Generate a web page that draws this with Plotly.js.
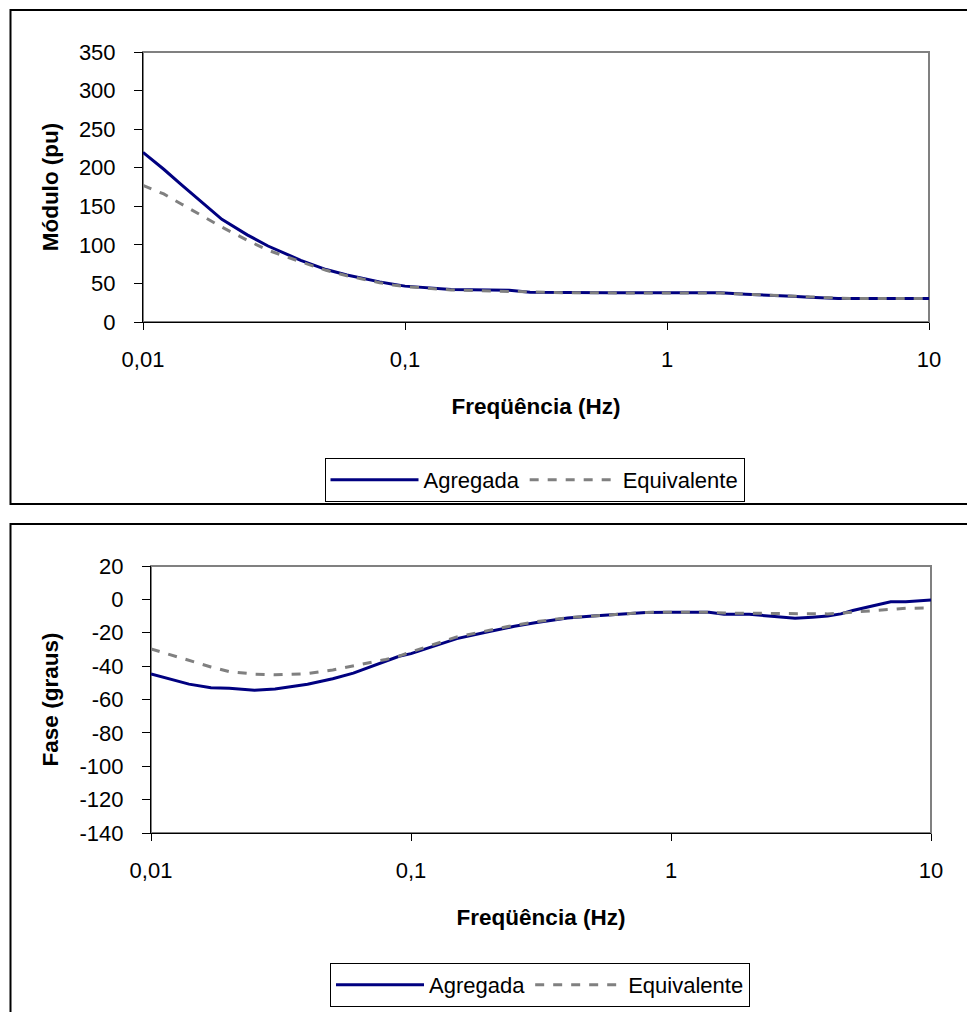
<!DOCTYPE html>
<html>
<head>
<meta charset="utf-8">
<script src="https://cdn.plot.ly/plotly-3.0.1.min.js"></script>
<style>
  html, body { margin: 0; padding: 0; background: #ffffff; }
  #chart { width: 967px; height: 1012px; }
</style>
</head>
<body>
<div id="chart"></div>
<script>
// Frequências (Hz)
const freq = [0.01, 0.012, 0.014, 0.017, 0.02, 0.025, 0.03, 0.04, 0.05, 0.06, 0.07, 0.08, 0.09, 0.1,
              0.15, 0.2, 0.25, 0.3, 0.4, 0.5, 0.6, 0.8, 1, 1.4, 1.6, 2, 2.5, 3, 3.5, 4, 4.5, 5, 6, 7, 8, 10];

// Módulo (pu)
const modAgregada = [220, 198, 178, 154, 133, 113, 98.5, 80, 68, 61, 56, 52, 49, 46.5,
                     42, 41, 41, 38.5, 38, 38, 38, 38, 38, 38, 38, 36, 35, 33.5, 32, 31, 30.5, 30.5, 30.5, 30.5, 30.5, 30.5];
const modEquivalente = [177, 166, 153, 137, 123, 106, 93, 78, 67, 60, 55, 51, 48, 46,
                        41.5, 40.5, 40, 38.5, 38, 38, 37.5, 37.5, 37.5, 37.5, 37.5, 36, 34.5, 33.5, 32.5, 31.5, 31, 30.5, 30.5, 30.5, 30.5, 30.5];

// Fase (graus)
const faseAgregada = [-44.7, -48, -50.8, -53, -53.3, -54.5, -53.7, -50.9, -47.6, -44.2, -40.5, -37.1, -34.1, -32.5,
                      -23.5, -19.3, -16.1, -14, -11.1, -10, -9.1, -7.9, -7.7, -7.7, -8.9, -8.9, -10.3, -11.3, -10.7, -10, -8.7, -6.7, -3.8, -1.4, -1.4, -0.4];
const faseEquivalente = [-29.7, -33.5, -36.5, -40.5, -43.3, -44.8, -45.2, -44.5, -42.3, -40, -37.8, -36, -34, -31.5,
                         -22.5, -18.5, -15.5, -13.5, -11, -10, -9, -7.8, -7.7, -7.7, -8.2, -8.3, -8.6, -8.9, -8.9, -8.7, -8.2, -7.7, -6.8, -6, -5.3, -5.2];

const xTickVals = [0.01, 0.1, 1, 10];
const xTickText = ['0,01', '0,1', '1', '10'];
const modTickVals = [0, 50, 100, 150, 200, 250, 300, 350];
const modTickText = ['0', '50', '100', '150', '200', '250', '300', '350'];
const faseTickVals = [-140, -120, -100, -80, -60, -40, -20, 0, 20];
const faseTickText = ['-140', '-120', '-100', '-80', '-60', '-40', '-20', '0', '20'];
const seriesNames = ['Agregada', 'Equivalente'];
const xTitle = 'Freqüência (Hz)';
const yTitleTop = 'Módulo (pu)';
const yTitleBottom = 'Fase (graus)';

const W = 967, H = 1012;
const px = v => v / W;
const py = v => (H - v) / H;

const navy = '#000080';
const grey = '#808080';
const FONT = 'Liberation Sans, Arial, sans-serif';

const traces = [
  {x: freq, y: modAgregada, name: seriesNames[0], xaxis: 'x', yaxis: 'y', legend: 'legend',
   mode: 'lines', line: {color: navy, width: 3}},
  {x: freq, y: modEquivalente, name: seriesNames[1], xaxis: 'x', yaxis: 'y', legend: 'legend',
   mode: 'lines', line: {color: grey, width: 3, dash: 'dash'}},
  {x: freq, y: faseAgregada, name: seriesNames[0], xaxis: 'x2', yaxis: 'y2', legend: 'legend2',
   mode: 'lines', line: {color: navy, width: 3}},
  {x: freq, y: faseEquivalente, name: seriesNames[1], xaxis: 'x2', yaxis: 'y2', legend: 'legend2',
   mode: 'lines', line: {color: grey, width: 3, dash: 'dash'}}
];

function xAxis(domain, anchor) {
  return {
    type: 'log', domain: domain, anchor: anchor, range: [-2, 1],
    tickmode: 'array', tickvals: xTickVals, ticktext: xTickText,
    ticks: 'outside', ticklen: 7, tickwidth: 1, tickcolor: '#000',
    showline: true, linecolor: '#000', linewidth: 1,
    showgrid: false, zeroline: false,
    tickfont: {size: 22, color: '#000'},
    ticklabelstandoff: 11,
    title: {text: xTitle, font: {size: 22.5, weight: 'bold', color: '#000'}, standoff: 26}
  };
}
function yAxis(domain, anchor, range, vals, texts, title) {
  return {
    domain: domain, anchor: anchor, range: range,
    tickmode: 'array', tickvals: vals, ticktext: texts,
    ticks: 'outside', ticklen: 8, tickwidth: 1, tickcolor: '#000',
    showline: true, linecolor: '#000', linewidth: 1,
    showgrid: false, zeroline: false,
    tickfont: {size: 22, color: '#000'},
    ticklabelstandoff: 14,
    title: {text: title, font: {size: 22.5, weight: 'bold', color: '#000'}, standoff: 14}
  };
}

const legendBase = {
  orientation: 'h', xanchor: 'center', yanchor: 'top',
  bgcolor: '#fff', bordercolor: '#000', borderwidth: 1,
  font: {size: 22, color: '#000'}, itemwidth: 88, tracegroupgap: 0
};

const layout = {
  width: W, height: H,
  margin: {l: 0, r: 0, t: 0, b: 0},
  paper_bgcolor: '#fff', plot_bgcolor: '#fff',
  font: {family: FONT, color: '#000'},
  hovermode: false,
  xaxis: xAxis([px(143), px(929)], 'y'),
  yaxis: yAxis([py(322), py(52)], 'x', [0, 350], modTickVals, modTickText, yTitleTop),
  xaxis2: xAxis([px(151), px(931)], 'y2'),
  yaxis2: yAxis([py(833), py(566)], 'x2', [-140, 20], faseTickVals, faseTickText, yTitleBottom),
  legend: Object.assign({}, legendBase, {x: px(534.5), y: py(458)}),
  legend2: Object.assign({}, legendBase, {x: px(540), y: py(963)}),
  shapes: [
    {type: 'rect', xref: 'x domain', yref: 'y domain', x0: 0, x1: 1, y0: 0, y1: 1,
     line: {color: grey, width: 2}, layer: 'below'},
    {type: 'rect', xref: 'x2 domain', yref: 'y2 domain', x0: 0, x1: 1, y0: 0, y1: 1,
     line: {color: grey, width: 2}, layer: 'below'},
    {type: 'rect', xref: 'paper', yref: 'paper', x0: px(10.5), x1: 1.05, y0: py(504), y1: py(10),
     line: {color: '#000', width: 2}, layer: 'below'},
    {type: 'rect', xref: 'paper', yref: 'paper', x0: px(10.5), x1: 1.05, y0: -0.05, y1: py(524),
     line: {color: '#000', width: 2}, layer: 'below'}
  ]
};

Plotly.newPlot('chart', traces, layout, {staticPlot: true, displayModeBar: false});
</script>
</body>
</html>
